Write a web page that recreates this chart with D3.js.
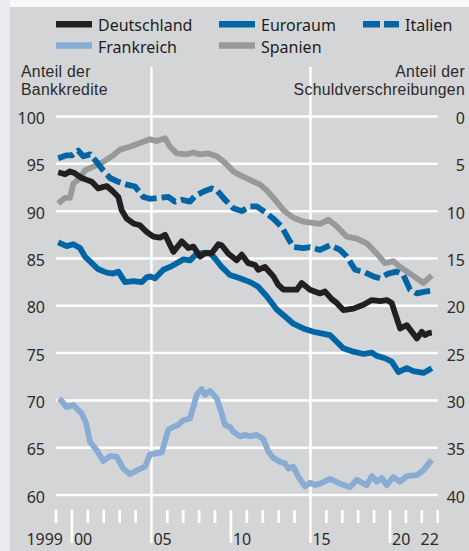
<!DOCTYPE html>
<html>
<head>
<meta charset="utf-8">
<script src="https://cdn.jsdelivr.net/npm/d3@7"></script>
<style>
  html, body { margin: 0; padding: 0; background: #ebebef; }
  svg { display: block; }
  text { font-family: "Noto Sans", "DejaVu Sans", sans-serif; }
  text.title { font-family: "Liberation Sans", Arial, sans-serif; }
</style>
</head>
<body>
<svg id="chart" width="469" height="551"></svg>
<script>
// ---- data (decimal year, share in %) ----
const deutschland = [[1999.14,94.1],[1999.57,93.9],[1999.88,94.2],[2000.19,94.0],[2000.62,93.5],[2000.93,93.3],[2001.25,93.1],[2001.66,92.4],[2002.19,92.65],[2002.60,92.05],[2002.92,91.5],[2003.13,90.1],[2003.45,89.2],[2003.86,88.7],[2004.28,88.5],[2004.70,87.8],[2005.12,87.3],[2005.54,87.2],[2005.86,87.5],[2006.38,85.7],[2006.91,86.8],[2007.32,86.1],[2007.64,86.25],[2008.06,85.2],[2008.37,85.55],[2008.79,85.55],[2009.21,86.5],[2009.42,86.4],[2009.84,85.5],[2010.36,84.8],[2010.68,85.4],[2011.09,84.5],[2011.52,84.3],[2011.72,83.8],[2012.14,84.1],[2012.67,83.1],[2012.98,82.2],[2013.30,81.7],[2013.72,81.7],[2014.14,81.7],[2014.45,82.4],[2014.97,81.7],[2015.60,81.3],[2015.92,81.5],[2016.34,80.7],[2016.65,80.3],[2017.07,79.55],[2017.70,79.7],[2018.33,80.1],[2018.86,80.6],[2019.38,80.5],[2019.80,80.6],[2020.11,80.3],[2020.32,79.2],[2020.64,77.6],[2021.06,77.95],[2021.37,77.25],[2021.69,76.55],[2022.00,77.25],[2022.21,76.9],[2022.42,77.1],[2022.63,77.15]];
const euroraum = [[1999.14,86.7],[1999.67,86.3],[2000.09,86.5],[2000.51,86.1],[2000.82,85.2],[2001.25,84.5],[2001.66,83.85],[2002.19,83.5],[2002.60,83.4],[2002.92,83.6],[2003.34,82.5],[2003.86,82.6],[2004.39,82.5],[2004.70,83.0],[2004.91,83.1],[2005.23,82.9],[2005.75,83.8],[2006.17,84.1],[2006.59,84.5],[2007.01,84.9],[2007.43,84.8],[2007.85,85.5],[2008.37,85.6],[2008.69,85.55],[2009.00,85.0],[2009.42,84.1],[2009.94,83.25],[2010.57,82.9],[2011.20,82.5],[2011.72,82.0],[2012.25,81.0],[2012.88,79.6],[2013.51,78.7],[2013.92,78.1],[2014.55,77.6],[2015.18,77.25],[2015.60,77.1],[2016.23,76.9],[2016.65,76.2],[2017.07,75.5],[2017.70,75.15],[2018.33,74.9],[2018.86,75.05],[2019.17,74.7],[2019.69,74.45],[2020.11,74.1],[2020.53,73.0],[2021.06,73.4],[2021.47,73.1],[2022.10,72.9],[2022.32,73.1],[2022.63,73.4]];
const italien = [[1999.14,95.6],[1999.67,95.9],[1999.99,95.9],[2000.40,96.4],[2000.72,95.8],[2001.14,96.0],[2001.56,95.2],[2001.97,94.3],[2002.40,93.5],[2002.92,93.1],[2003.45,92.8],[2003.97,92.6],[2004.49,91.5],[2004.91,91.3],[2005.54,91.4],[2006.06,91.5],[2006.48,91.0],[2006.91,91.2],[2007.43,91.0],[2007.74,91.6],[2008.26,92.05],[2008.79,92.4],[2009.11,92.2],[2009.63,91.2],[2010.15,90.3],[2010.68,90.0],[2011.20,90.5],[2011.62,90.5],[2012.14,89.9],[2012.67,89.2],[2013.19,88.35],[2013.61,87.1],[2013.92,86.2],[2014.55,86.1],[2014.97,86.2],[2015.60,85.9],[2016.23,86.4],[2016.86,85.9],[2017.28,85.2],[2017.81,83.8],[2018.33,83.6],[2018.96,83.1],[2019.38,82.9],[2019.90,83.4],[2020.42,83.6],[2020.84,83.25],[2021.26,81.7],[2021.69,81.3],[2022.21,81.5],[2022.63,81.6]];
const frankreich = [[1999.21,70.2],[1999.67,69.3],[2000.09,69.5],[2000.62,68.6],[2000.89,67.6],[2001.14,65.6],[2001.56,64.75],[2001.97,63.6],[2002.40,64.1],[2002.82,64.05],[2003.23,62.8],[2003.65,62.2],[2004.08,62.6],[2004.60,63.0],[2004.91,64.3],[2005.65,64.5],[2006.06,66.9],[2006.38,67.2],[2006.69,67.4],[2007.01,67.9],[2007.43,68.1],[2007.85,70.6],[2008.16,71.2],[2008.37,70.6],[2008.69,71.0],[2009.11,70.2],[2009.42,68.6],[2009.63,67.4],[2009.94,67.2],[2010.15,66.7],[2010.57,66.2],[2010.89,66.35],[2011.20,66.2],[2011.62,66.35],[2012.04,65.9],[2012.35,64.6],[2012.67,63.9],[2013.09,63.5],[2013.40,63.35],[2013.61,62.8],[2013.92,63.0],[2014.24,61.9],[2014.66,60.9],[2014.97,61.3],[2015.29,61.05],[2015.60,61.2],[2016.23,61.7],[2016.86,61.2],[2017.49,60.85],[2017.91,61.6],[2018.54,61.05],[2018.86,62.0],[2019.17,61.4],[2019.48,61.8],[2019.80,61.05],[2020.21,61.9],[2020.64,61.4],[2021.06,62.0],[2021.69,62.1],[2022.10,62.6],[2022.52,63.5],[2022.63,63.7]];
const spanien = [[1999.14,90.8],[1999.57,91.4],[1999.88,91.4],[2000.09,92.9],[2000.51,93.5],[2000.82,94.3],[2001.35,94.7],[2001.97,95.2],[2002.60,95.9],[2003.03,96.5],[2003.65,96.8],[2004.28,97.2],[2004.91,97.6],[2005.33,97.4],[2005.86,97.7],[2006.17,96.8],[2006.59,96.1],[2007.22,96.0],[2007.64,96.2],[2008.06,96.0],[2008.58,96.1],[2009.11,95.8],[2009.63,95.1],[2010.15,94.2],[2010.57,93.8],[2011.20,93.3],[2011.83,92.8],[2012.25,92.2],[2012.77,91.2],[2013.30,90.1],[2013.92,89.3],[2014.55,88.9],[2015.60,88.65],[2016.13,89.1],[2016.65,88.4],[2017.28,87.3],[2017.91,87.1],[2018.54,86.6],[2019.17,85.5],[2019.69,84.5],[2020.21,84.7],[2020.64,84.1],[2021.26,83.4],[2021.69,82.9],[2022.10,82.4],[2022.42,82.9],[2022.63,83.2]];

const leftTicks = [60, 65, 70, 75, 80, 85, 90, 95, 100];
const rightTicks = [0, 5, 10, 15, 20, 25, 30, 35, 40];
const yearLabels = ["1999", "00", "05", "10", "15", "20", "22"];
const yearLabelYears = [1999, 2000, 2005, 2010, 2015, 2020, 2022];
const seriesNames = ["Deutschland", "Euroraum", "Italien", "Frankreich", "Spanien"];

// ---- setup ----
const svg = d3.select("#chart");
const W = 469, H = 551;
const textColor = "#2b2b2b";

svg.append("rect").attr("x", 10).attr("y", 0).attr("width", W - 10).attr("height", 7).attr("fill", "#f8f8fa");
svg.append("rect").attr("x", 10).attr("y", 7).attr("width", W - 10).attr("height", H - 7).attr("fill", "#d4d5d7");

const x = d3.scaleLinear().domain([1999, 2023]).range([56, 437.7]);
const y = d3.scaleLinear().domain([60, 100]).range([495, 116.5]);

// gridlines
svg.append("g").selectAll("line").data(leftTicks).join("line")
  .attr("x1", x(1999)).attr("x2", x(2023))
  .attr("y1", d => y(d)).attr("y2", d => y(d))
  .attr("stroke", "#fff").attr("stroke-width", 2.5);

// vertical lines at 2005 and 2015
svg.append("g").selectAll("line").data([2005, 2015]).join("line")
  .attr("x1", d => x(d)).attr("x2", d => x(d))
  .attr("y1", 67).attr("y2", 543)
  .attr("stroke", "#fff").attr("stroke-width", 2.5);

// year ticks
const years = d3.range(1999, 2024);
svg.append("g").selectAll("line").data(years.filter(v => v !== 2005 && v !== 2015)).join("line")
  .attr("x1", d => x(d)).attr("x2", d => x(d))
  .attr("y1", 510).attr("y2", d => (d % 10 === 0) ? 543 : 523)
  .attr("stroke", "#fff").attr("stroke-width", 2.7);

// year labels
svg.append("g").selectAll("text").data(yearLabels).join("text")
  .attr("x", (d, i) => {
    const yr = yearLabelYears[i];
    if (d === "1999") return x(yr) + 7;
    if (d === "22") return x(yr + 0.5);
    return x(yr) + 2;
  })
  .attr("y", 545)
  .attr("text-anchor", d => d === "1999" ? "end" : (d === "22" ? "middle" : "start"))
  .attr("font-size", 16).attr("fill", textColor)
  .text(d => d);

// left axis labels
svg.append("g").selectAll("text").data(leftTicks).join("text")
  .attr("x", 45).attr("y", d => y(d) + 7.5)
  .attr("text-anchor", "end").attr("font-size", 16).attr("fill", textColor)
  .text(d => d);

// right axis labels
svg.append("g").selectAll("text").data(rightTicks).join("text")
  .attr("x", 465).attr("y", d => y(100 - d) + 7.5)
  .attr("text-anchor", "end").attr("font-size", 16).attr("fill", textColor)
  .text(d => d);

// axis titles (separate lines)
const titleLines = [
  { t: "Anteil der", x: 21, y: 77, a: "start" },
  { t: "Bankkredite", x: 21, y: 95, a: "start" },
  { t: "Anteil der", x: 465, y: 77, a: "end" },
  { t: "Schuldverschreibungen", x: 465, y: 95, a: "end" }
];
svg.append("g").selectAll("text").data(titleLines).join("text")
  .attr("class", "title")
  .attr("x", d => d.x).attr("y", d => d.y)
  .attr("text-anchor", d => d.a)
  .attr("font-size", 15.8).attr("letter-spacing", 0.3).attr("fill", textColor)
  .text(d => d.t);

// ---- series ----
const colors = {
  Deutschland: "#231f20",
  Euroraum: "#0065a4",
  Italien: "#0065a4",
  Frankreich: "#89acd5",
  Spanien: "#98999b"
};
const dash = { Italien: "16,5" };
const dataBy = { Deutschland: deutschland, Euroraum: euroraum, Italien: italien, Frankreich: frankreich, Spanien: spanien };

const line = d3.line().x(d => x(d[0])).y(d => y(d[1]));
const drawOrder = ["Frankreich", "Spanien", "Italien", "Euroraum", "Deutschland"];
svg.append("g").selectAll("path").data(drawOrder).join("path")
  .attr("d", n => line(dataBy[n]))
  .attr("fill", "none")
  .attr("stroke", n => colors[n])
  .attr("stroke-width", 5.8)
  .attr("stroke-linejoin", "round")
  .attr("stroke-dasharray", n => dash[n] || null);

// ---- legend ----
const legendPos = {
  Deutschland: [56, 24.3], Euroraum: [219, 24.3], Italien: [363, 24.3],
  Frankreich: [56, 45.5], Spanien: [219, 45.5]
};
const lg = svg.append("g");
seriesNames.forEach(n => {
  const [lx, ly] = legendPos[n];
  const sw = 36;
  lg.append("line")
    .attr("x1", lx).attr("x2", lx + sw).attr("y1", ly).attr("y2", ly)
    .attr("stroke", colors[n]).attr("stroke-width", 6.5)
    .attr("stroke-dasharray", n === "Italien" ? "17,4" : null);
  lg.append("text")
    .attr("x", lx + 42)
    .attr("y", ly + 7)
    .attr("font-size", 16).attr("fill", "#1e1e1e")
    .text(n);
});
</script>
</body>
</html>
